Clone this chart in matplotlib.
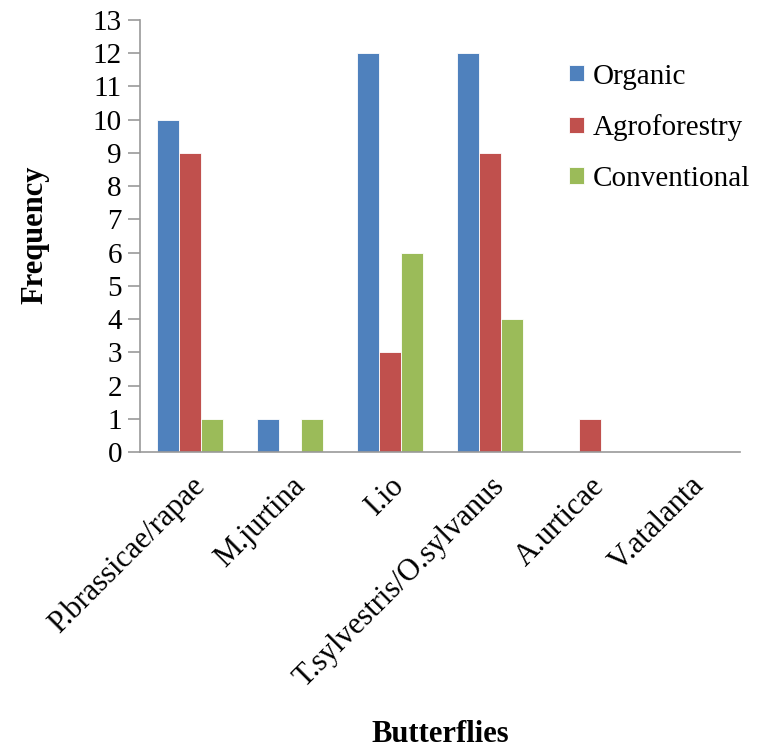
import matplotlib
matplotlib.use("Agg")
import matplotlib.pyplot as plt
import numpy as np

# Butterfly counts per farming system
butterflies = ["P.brassicae/rapae", "M.jurtina", "I.io",
               "T.sylvestris/O.sylvanus", "A.urticae", "V.atalanta"]
organic = [10, 1, 12, 12, 0, 0]
agroforestry = [9, 0, 3, 9, 1, 0]
conventional = [1, 1, 6, 4, 0, 0]

series = [("Organic", organic, "#4F81BD"),
          ("Agroforestry", agroforestry, "#C0504D"),
          ("Conventional", conventional, "#9BBB59")]

plt.rcParams['font.family'] = ['Liberation Serif', 'DejaVu Serif']

fig = plt.figure(figsize=(7.67, 7.49), dpi=100)
ax = fig.add_axes([140/767, 1-452/749, 600/767, 432/749])

x = np.arange(len(butterflies))
width = 0.22
for i, (name, vals, color) in enumerate(series):
    ax.bar(x + (i - 1)*width, vals, width, color=color, label=name,
           edgecolor='white', linewidth=0.6)

ax.set_xlim(-0.5, len(butterflies) - 0.5)
ax.set_ylim(0, 13)
ax.set_yticks(range(0, 14))
ax.tick_params(axis='y', labelsize=21, length=9, width=1.2, color='#999999',
               pad=4)
ax.tick_params(axis='x', length=0, pad=14)
ax.set_xticks(x)
ax.set_xticklabels(butterflies, rotation=45, ha='right', va='top',
                   rotation_mode='anchor', fontsize=22)

for side in ['top', 'right']:
    ax.spines[side].set_visible(False)
for side in ['left', 'bottom']:
    ax.spines[side].set_color('#999999')
    ax.spines[side].set_linewidth(1.2)

ax.legend(loc='upper left', bbox_to_anchor=(0.672, 0.96), frameon=False,
          fontsize=21, handlelength=0.5, handleheight=0.5,
          handletextpad=0.3, labelspacing=0.85)

fig.text(35/767, 1-235/749, "Frequency", rotation=90, fontsize=22,
         fontweight='bold', ha='center', va='center')
fig.text(440/767, 1-720/749, "Butterflies", fontsize=22,
         fontweight='bold', ha='center', va='top')

fig.savefig("out.png", dpi=100)
